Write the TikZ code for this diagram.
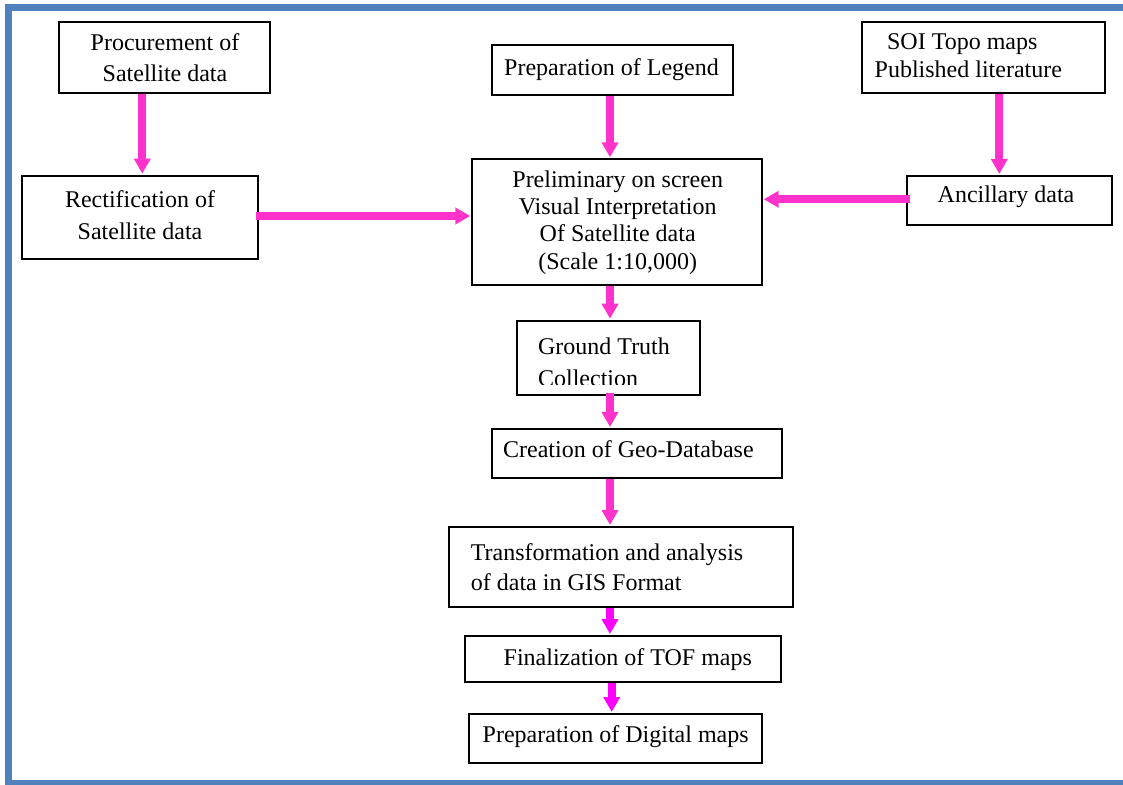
\documentclass[tikz,border=0pt]{standalone}
\usepackage{fontspec}
\setmainfont{Liberation Serif}
\usetikzlibrary{arrows.meta}
\definecolor{framebl}{HTML}{4F81BD}
\definecolor{arrpink}{HTML}{FF33CC}
\definecolor{arrmag}{HTML}{FF00FF}
\tikzset{
  box/.style={draw=black, line width=1pt, rectangle, inner sep=0pt},
  txt/.style={inner sep=0pt, font=\fontsize{12pt}{13.65pt}\selectfont},
  arr/.style={draw=arrpink, line width=4pt, -{Triangle[width=8pt,length=7.5pt]}},
  arrm/.style={arr, draw=arrmag},
}
\begin{document}
\begin{tikzpicture}[x=0.5pt, y=-0.5pt]
\useasboundingbox (0,0) rectangle (1123,785);
% frame
\draw[framebl, line width=3.3pt] (1135,7.5) -- (8.4,7.5) -- (8.4,783) -- (1135,783);

% boxes
\node[box, minimum width=105.25pt, minimum height=35.8pt] (proc) at (164.25,57.5) {};
\node[box, minimum width=118.15pt, minimum height=41.65pt] (rect) at (140.2,217.3) {};
\node[box, minimum width=120.5pt, minimum height=25pt] (leg) at (612.3,70) {};
\node[box, minimum width=121.65pt, minimum height=35.8pt] (soi) at (983.3,57.5) {};
\node[box, minimum width=102.5pt, minimum height=24.5pt] (anc) at (1009.2,200.5) {};
\node[box, minimum width=144.7pt, minimum height=63pt] (pre) at (617,222.3) {};
\node[box, minimum width=91.65pt, minimum height=37.3pt] (gt) at (608.3,358) {};
\node[box, minimum width=145pt, minimum height=24.5pt] (geo) at (637,453.5) {};
\node[box, minimum width=172pt, minimum height=40pt] (gis) at (621,567) {};
\node[box, minimum width=158pt, minimum height=23pt] (tof) at (623,659) {};
\node[box, minimum width=146.5pt, minimum height=24.5pt] (dig) at (615.5,738.5) {};

% texts (base anchor = baseline of the last line)
\node[txt, anchor=base, align=center, font=\fontsize{12pt}{15.5pt}\selectfont] (proc-t) at (165,81.7) {Procurement of\\Satellite data};
\node[txt, anchor=base, align=center, font=\fontsize{12pt}{16pt}\selectfont] (rect-t) at (140,240) {Rectification of\\Satellite data};
\node[txt, anchor=base] (leg-t) at (611.5,75.7) {Preparation of Legend};
\node[txt, anchor=base west, align=left] (soi-t) at (874.3,77.3) {\hspace*{6.2pt}SOI Topo maps\\Published literature};
\node[txt, anchor=base] (anc-t) at (1006,202.7) {Ancillary data};
\node[txt, anchor=base, align=center] (pre-t) at (617.7,269.2) {Preliminary on screen\\Visual Interpretation\\Of Satellite data\\(Scale 1:10,000)};
\begin{scope}
\clip (516,321) rectangle (700,384.3);
\node[txt, anchor=base west, align=left, font=\fontsize{12pt}{16pt}\selectfont] (gt-t) at (537.7,386.3) {Ground Truth\\Collection};
\end{scope}
\node[txt, anchor=base west] (geo-t) at (502.7,457.3) {Creation of Geo-Database};
\node[txt, anchor=base west, align=left, font=\fontsize{12pt}{15pt}\selectfont] (gis-t) at (470.5,590) {Transformation and analysis\\of data in GIS Format};
\node[txt, anchor=base west] (tof-t) at (503.3,665.7) {Finalization of TOF maps};
\node[txt, anchor=base west] (dig-t) at (482.3,742.3) {Preparation of Digital maps};

% connector guides
\coordinate (xa) at (142.3,0);
\coordinate (xb) at (610,0);
\coordinate (xc) at (999.3,0);
\coordinate (xd) at (611.7,0);
\coordinate (ya) at (0,216);
\coordinate (yb) at (0,199.3);

% connectors
\draw[arr] (proc.south -| xa) -- ([yshift=0.5pt]rect.north -| xa);
\draw[arr] (leg.south -| xb) -- ([yshift=0.5pt]pre.north -| xb);
\draw[arr] (soi.south -| xc) -- ([yshift=0.5pt]anc.north -| xc);
\draw[arr] ([xshift=-1.5pt]rect.east |- ya) -- ([xshift=-0.5pt]pre.west |- ya);
\draw[arr] ([xshift=2pt]anc.west |- yb) -- ([xshift=0.5pt]pre.east |- yb);
\draw[arr] (pre.south -| xb) -- ([yshift=0.5pt]gt.north -| xb);
\draw[arr] ([yshift=1.5pt]gt.south -| xb) -- ([yshift=0.5pt]geo.north -| xb);
\draw[arr] (geo.south -| xb) -- ([yshift=0.5pt]gis.north -| xb);
\draw[arrm] (gis.south -| xb) -- ([yshift=0.5pt]tof.north -| xb);
\draw[arrm] (tof.south -| xd) -- ([yshift=0.5pt]dig.north -| xd);
\end{tikzpicture}
\end{document}
